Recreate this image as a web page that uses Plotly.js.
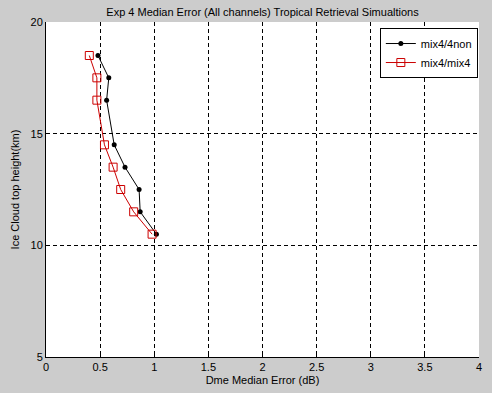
<!DOCTYPE html>
<html><head><meta charset="utf-8">
<script src="https://cdn.plot.ly/plotly-3.0.1.min.js"></script>
<style>html,body{margin:0;padding:0;background:#cccccc;}</style>
</head><body>
<div id="chart" style="width:492px;height:393px;"></div>
<script>
const heights = [18.5, 17.5, 16.5, 14.5, 13.5, 12.5, 11.5, 10.5];
const mix4non = [0.48, 0.58, 0.56, 0.63, 0.73, 0.86, 0.87, 1.02];
const mix4mix4 = [0.40, 0.47, 0.47, 0.54, 0.62, 0.69, 0.81, 0.98];
const seriesNames = ["mix4/4non", "mix4/mix4"];
const xTicks = [0, 0.5, 1, 1.5, 2, 2.5, 3, 3.5, 4];
const yTicks = [5, 10, 15, 20];

const fontFam = 'Liberation Sans, Arial, sans-serif';
const traces = [
  {x: mix4non, y: heights, name: seriesNames[0], mode: 'lines+markers',
   line: {color: '#000000', width: 1}, marker: {symbol: 'circle', size: 5, color: '#000000'}},
  {x: mix4mix4, y: heights, name: seriesNames[1], mode: 'lines+markers',
   line: {color: '#cc0000', width: 1}, marker: {symbol: 'square-open', size: 8, color: '#cc0000', line: {width: 1}}}
];
const layout = {
  width: 492, height: 393,
  paper_bgcolor: '#cccccc', plot_bgcolor: '#ffffff',
  margin: {l: 46, r: 13, t: 22, b: 36},
  font: {family: fontFam, size: 11, color: '#000000'},
  title: {text: 'Exp 4 Median Error (All channels) Tropical Retrieval Simualtions',
          font: {size: 11, family: fontFam}, x: 0.5, xanchor: 'center', y: 0.97, yanchor: 'middle', xref: 'paper'},
  xaxis: {range: [0, 4], tickvals: xTicks, ticktext: xTicks.map(String), showline: true, linecolor: '#000', linewidth: 1,
          ticks: 'inside', ticklen: 4, tickcolor: '#000', showgrid: true, gridcolor: '#000', griddash: '4px,3px', gridwidth: 1,
          zeroline: false, title: {text: 'Dme Median Error (dB)', standoff: 4, font: {size: 11}}},
  yaxis: {range: [5, 20], tickvals: yTicks, ticktext: yTicks.map(String), showline: true, linecolor: '#000', linewidth: 1,
          ticks: 'inside', ticklen: 4, tickcolor: '#000', showgrid: true, gridcolor: '#000', griddash: '4px,3px', gridwidth: 1,
          zeroline: false, title: {text: 'Ice Cloud top height(km)', standoff: 8, font: {size: 11}}},
  legend: {x: 0.771, y: 0.982, xanchor: 'left', yanchor: 'top', bgcolor: '#ffffff', bordercolor: '#000', borderwidth: 1,
           font: {size: 11}, tracegroupgap: 0, itemwidth: 30},
  showlegend: true
};
Plotly.newPlot('chart', traces, layout, {displayModeBar: false, staticPlot: true});
</script>
</body></html>
